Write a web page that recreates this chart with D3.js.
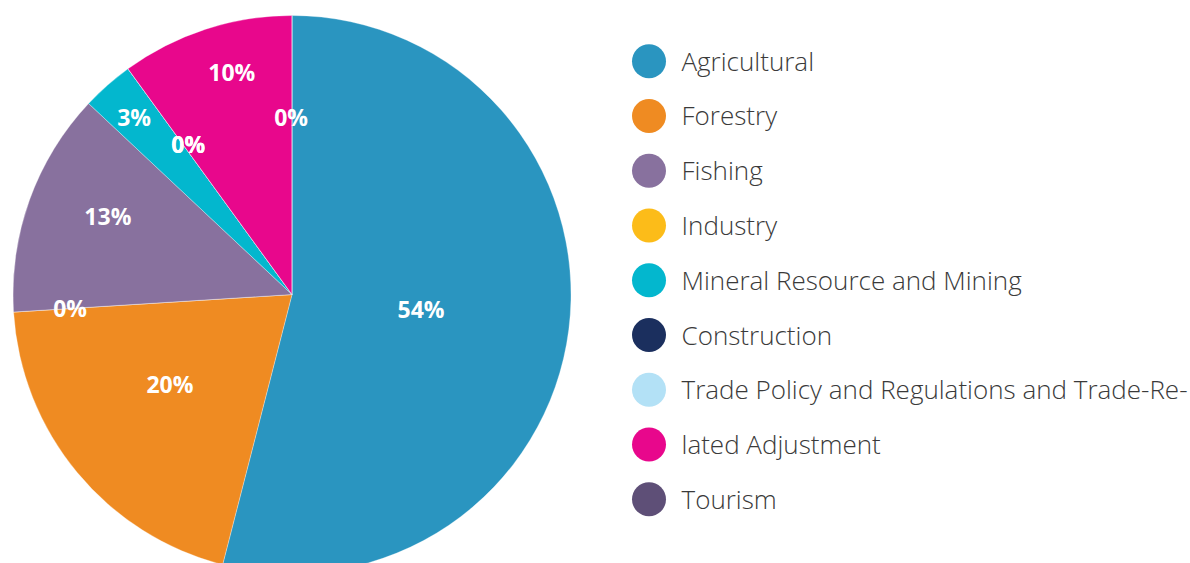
<!DOCTYPE html>
<html>
<head>
<meta charset="utf-8">
<script src="https://cdn.jsdelivr.net/npm/d3@7"></script>
<style>
  html, body { margin: 0; padding: 0; background: #ffffff; }
  svg { display: block; }
</style>
</head>
<body>
<svg id="chart" width="1190" height="563"></svg>
<script>
// Legend entries, in legend order
const categories = [
  "Agricultural",
  "Forestry",
  "Fishing",
  "Industry",
  "Mineral Resource and Mining",
  "Construction",
  "Trade Policy and Regulations and Trade-Re-",
  "lated Adjustment",
  "Tourism"
];
// Share of each category, percent (legend order)
const shares = [54, 20, 13, 0, 3, 0, 0, 10, 0];
const colors = [
  "#2a95c0", "#ef8b22", "#88719e", "#fcbc19", "#03b7ce",
  "#1b2f5e", "#b3e1f6", "#e8078c", "#5e4f77"
];
// Order in which the slices run clockwise from twelve o'clock
const sliceOrder = [0, 1, 3, 2, 4, 5, 6, 7, 8];

// Value label placement inside each slice (legend order):
// depth as a fraction of the radius, and a small angular nudge in degrees
const labelDepth = [0.466, 0.545, 0.716, 0.797, 0.849, 0.652, 0.652, 0.823, 0.633];
const labelNudge = [-0.35, 3.0, 3.0, -0.1, -0.4, 1.2, 1.2, 2.8, -0.3];

const svg = d3.select("#chart");
const cx = 292, cy = 294.5, radius = 279;

const slices = sliceOrder.map(i => ({ name: categories[i], value: shares[i], color: colors[i], idx: i }));

const pie = d3.pie().sort(null).value(d => d.value);
const arcs = pie(slices);
const arc = d3.arc().innerRadius(0).outerRadius(radius);

const g = svg.append("g").attr("transform", `translate(${cx},${cy})`);

g.selectAll("path.slice")
  .data(arcs)
  .join("path")
  .attr("class", "slice")
  .attr("d", arc)
  .attr("fill", d => d.data.color)
  .attr("stroke", "#ffffff")
  .attr("stroke-width", 0.6)
  .attr("stroke-opacity", 0.5);

g.selectAll("text.value")
  .data(arcs)
  .join("text")
  .attr("class", "value")
  .attr("transform", d => {
    const r = radius * labelDepth[d.data.idx];
    const shift = labelNudge[d.data.idx] * Math.PI / 180;
    const nudged = { startAngle: d.startAngle + shift, endAngle: d.endAngle + shift };
    const c = d3.arc().innerRadius(r).outerRadius(r).centroid(nudged);
    return `translate(${c[0]},${c[1]})`;
  })
  .attr("text-anchor", "middle")
  .attr("dy", "0.36em")
  .attr("fill", "#ffffff")
  .style("font-family", "'Open Sans', sans-serif")
  .style("font-weight", 700)
  .style("font-size", "23px")
  .text(d => d3.format(".0f")(d.data.value) + "%");

// Legend
const legendX = 649, legendY = 61.2, legendStep = 54.76;
const legend = svg.append("g");
const rows = legend.selectAll("g.row")
  .data(categories)
  .join("g")
  .attr("class", "row")
  .attr("transform", (d, i) => `translate(${legendX},${legendY + i * legendStep})`);

rows.append("circle")
  .attr("r", 17)
  .attr("fill", (d, i) => colors[i]);

rows.append("text")
  .attr("x", 32.5)
  .attr("y", 9.5)
  .attr("fill", "#3a3a3a")
  .style("font-family", "'Open Sans', sans-serif")
  .style("font-weight", 300)
  .style("font-size", "26px")
  .text(d => d);
</script>
</body>
</html>
